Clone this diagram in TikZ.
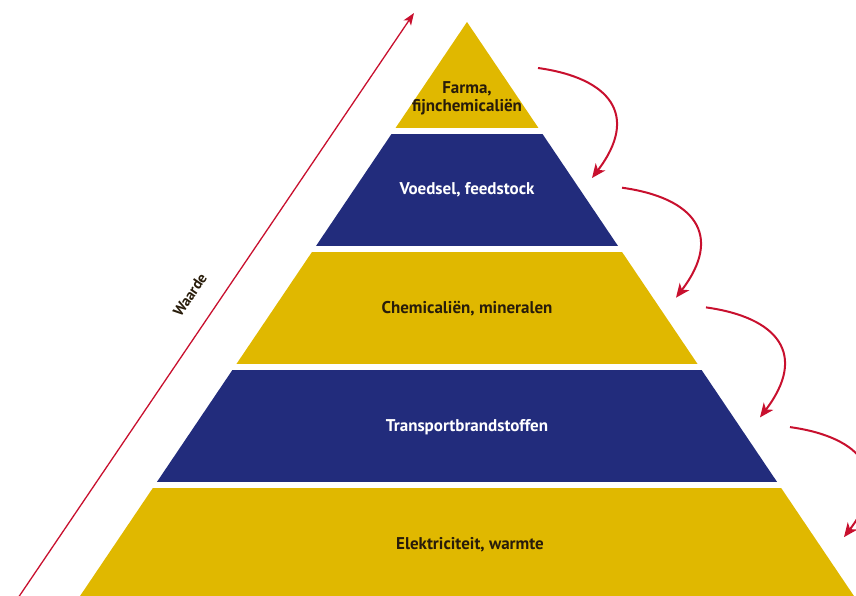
\documentclass[tikz,border=0pt]{standalone}
\usepackage{fontspec}
\setmainfont{PT Sans}
\usetikzlibrary{arrows.meta}
\definecolor{geel}{RGB}{224,184,0}
\definecolor{blauw}{RGB}{34,44,124}
\definecolor{rood}{RGB}{200,16,46}
\definecolor{donker}{RGB}{40,28,10}
\begin{document}
\begin{tikzpicture}
      [x=1pt,y=-1pt
      ,lag1/.style={fill=geel}
      ,lag2/.style={fill=blauw}
      ,txt1/.style={color=donker,align=center,font=\bfseries\fontsize{17}{18}\selectfont}
      ,txt2/.style={color=white,align=center,font=\bfseries\fontsize{17}{18}\selectfont}
      ,pijl/.style={color=rood,line width=1.3pt,-{Stealth[length=12pt,width=9pt,inset=3pt]}}
      ,boog/.style={color=rood,line width=2pt,-{Stealth[length=14pt,width=12pt,inset=4pt]}}
      ]
        \useasboundingbox (0,0) rectangle (856,596);
        \clip (0,0) rectangle (856,596);
        \begin{scope}
          \clip (467,22) -- (863.4,610) -- (70.6,610) -- cycle;
          \foreach \a/\b/\s in {22/128/lag1, 134/246/lag2, 252/364/lag1, 370/482/lag2, 488/610/lag1}{
            \path[\s] (0,\a) rectangle (856,\b);
          }
        \end{scope}
        \node[txt1] (farma) at (467,98) {Farma,\\fijnchemicaliën};
        \node[txt2] (voedsel) at (467,190) {Voedsel, feedstock};
        \node[txt1] (chemie) at (467,309) {Chemicaliën, mineralen};
        \node[txt2] (transport) at (467,427) {Transportbrandstoffen};
        \node[txt1] (elektra) at (470,545) {Elektriciteit, warmte};

        \coordinate (w0) at (18,598);
        \coordinate (w1) at (414,13);
        \draw[pijl] (w0) -- (w1);
        \node[color=donker,rotate=55.9,font=\bfseries\fontsize{15}{17}\selectfont] (waarde) at (190,295) {Waarde};

        \foreach \i in {0,1,2,3}{
          \coordinate (b\i) at (538+\i*84,68+\i*119.7);
          \coordinate (e\i) at (592+\i*84,178+\i*119.7);
          \draw[boog] (b\i) .. controls +(72,10) and +(48,-63) .. (e\i);
        }
\end{tikzpicture}
\end{document}
